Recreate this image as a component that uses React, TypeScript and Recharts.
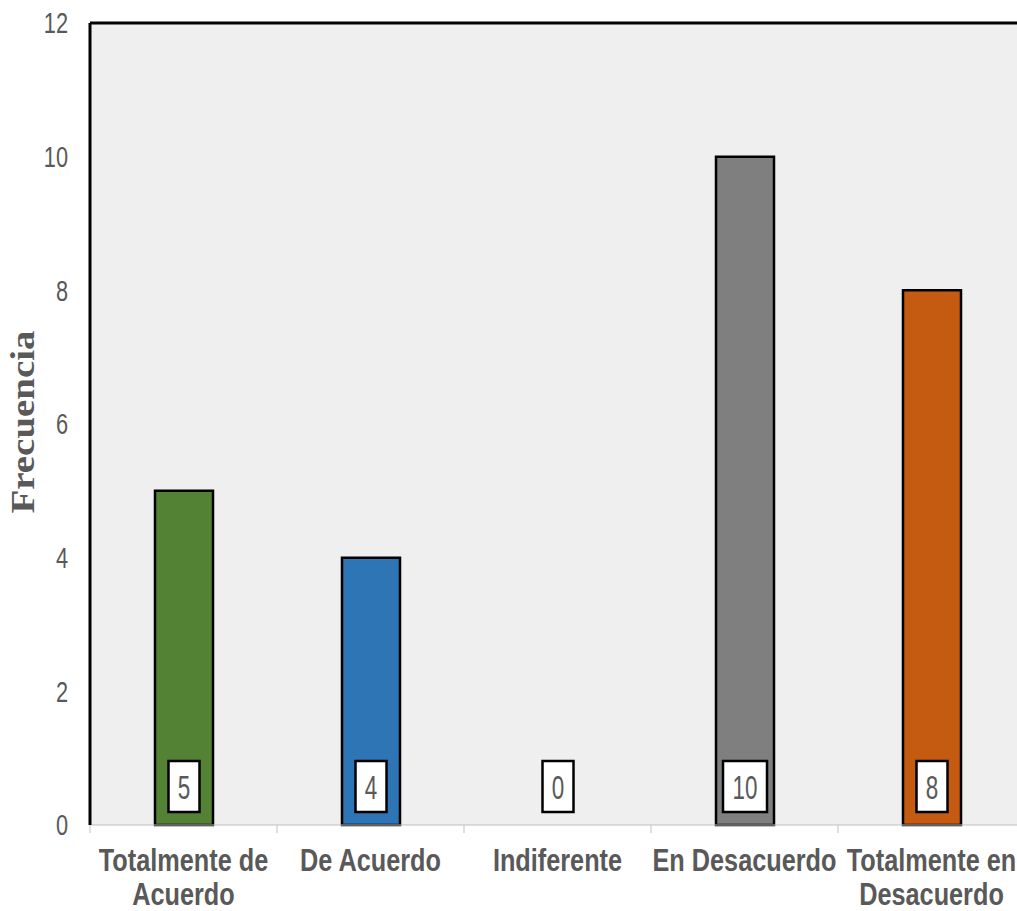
import { BarChart, Bar, XAxis, YAxis, CartesianGrid, Cell, LabelList, ReferenceLine } from 'recharts';

const categories = ['Totalmente de\nAcuerdo', 'De Acuerdo', 'Indiferente', 'En Desacuerdo', 'Totalmente en\nDesacuerdo'];
const frecuencias = [5, 4, 0, 10, 8];
const barColors = ['#548235', '#2E75B6', 'transparent', '#7F7F7F', '#C55A11'];
const yTicks = [0, 2, 4, 6, 8, 10, 12];

const data = categories.map((name, i) => ({ name, value: frecuencias[i] }));

const TEXT = '#595959';
const SANS = '"Liberation Sans", Arial, sans-serif';

// text squeezed horizontally (the reference uses a narrow face)
const SText = ({ x, y, sx, children, ...rest }: any) => (
  <text
    x={x}
    y={y}
    transform={`translate(${x} 0) scale(${sx} 1) translate(${-x} 0)`}
    fontFamily={SANS}
    fill={TEXT}
    {...rest}
  >
    {children}
  </text>
);

const YTick = ({ x, y, payload }: any) => (
  <SText x={x} y={y} sx={0.75} dy="0.36em" textAnchor="end" fontSize={29}>
    {payload.value}
  </SText>
);

const XTick = ({ x, y, payload, index }: any) => {
  const half = payload.offset || 93.5;
  const axisY = y - 8;
  const lines = String(payload.value).split('\n');
  return (
    <g>
      <line x1={x - half} x2={x - half} y1={axisY} y2={axisY + 8} stroke="#BFBFBF" />
      {index === categories.length - 1 && (
        <line x1={x + half} x2={x + half} y1={axisY} y2={axisY + 8} stroke="#BFBFBF" />
      )}
      {lines.map((l, i) => (
        <SText key={i} x={x} y={axisY + 46 + i * 34} sx={0.79} textAnchor="middle" fontSize={32} fontWeight="bold">
          {l}
        </SText>
      ))}
    </g>
  );
};

const YTitle = ({ viewBox }: any) => {
  const cx = viewBox.x + 22;
  const cy = viewBox.y + viewBox.height / 2 - 2;
  return (
    <text
      x={cx}
      y={cy}
      transform={`rotate(-90 ${cx} ${cy})`}
      textAnchor="middle"
      dominantBaseline="central"
      fill={TEXT}
      fontSize={34}
      fontWeight="bold"
      textLength={183}
      lengthAdjust="spacingAndGlyphs"
      fontFamily='"Liberation Serif", "Times New Roman", serif'
    >
      Frecuencia
    </text>
  );
};

const ValueBox = ({ x, y, width, height, value }: any) => {
  const bottom = y + height;
  const w = String(value).length > 1 ? 44 : 31;
  const cx = x + width / 2;
  return (
    <g>
      <rect x={cx - w / 2} y={bottom - 64} width={w} height={51} fill="#fff" stroke="#000" strokeWidth={2.5} />
      <SText x={cx} y={bottom - 38.5} sx={0.66} dy="0.36em" textAnchor="middle" fontSize={34}>
        {value}
      </SText>
    </g>
  );
};

export default function App() {
  return (
    <div style={{ position: 'absolute', left: 0, top: 0, width: 1017, height: 911, overflow: 'hidden', background: '#fff' }}>
      <BarChart width={1030} height={911} data={data} margin={{ top: 23, right: 5, left: 0, bottom: 0 }}>
        <CartesianGrid fill="#EFEFEF" horizontal={false} vertical={false} />
        <XAxis
          dataKey="name"
          height={86}
          interval={0}
          axisLine={{ stroke: '#BFBFBF' }}
          tickLine={false}
          tickSize={8}
          tickMargin={0}
          tick={<XTick />}
        />
        <YAxis
          width={90}
          domain={[0, 12]}
          ticks={yTicks}
          axisLine={{ stroke: '#000', strokeWidth: 3 }}
          tickLine={false}
          tickSize={6}
          tickMargin={16}
          tick={<YTick />}
          label={<YTitle />}
        />
        <ReferenceLine y={12} stroke="#000" strokeWidth={3} />
        <Bar dataKey="value" barSize={58} minPointSize={1} stroke="#000" strokeWidth={2.5} isAnimationActive={false}>
          {data.map((d, i) => (
            <Cell key={d.name} fill={barColors[i]} stroke={d.value ? '#000' : 'none'} />
          ))}
          <LabelList dataKey="value" content={<ValueBox />} />
        </Bar>
      </BarChart>
    </div>
  );
}
